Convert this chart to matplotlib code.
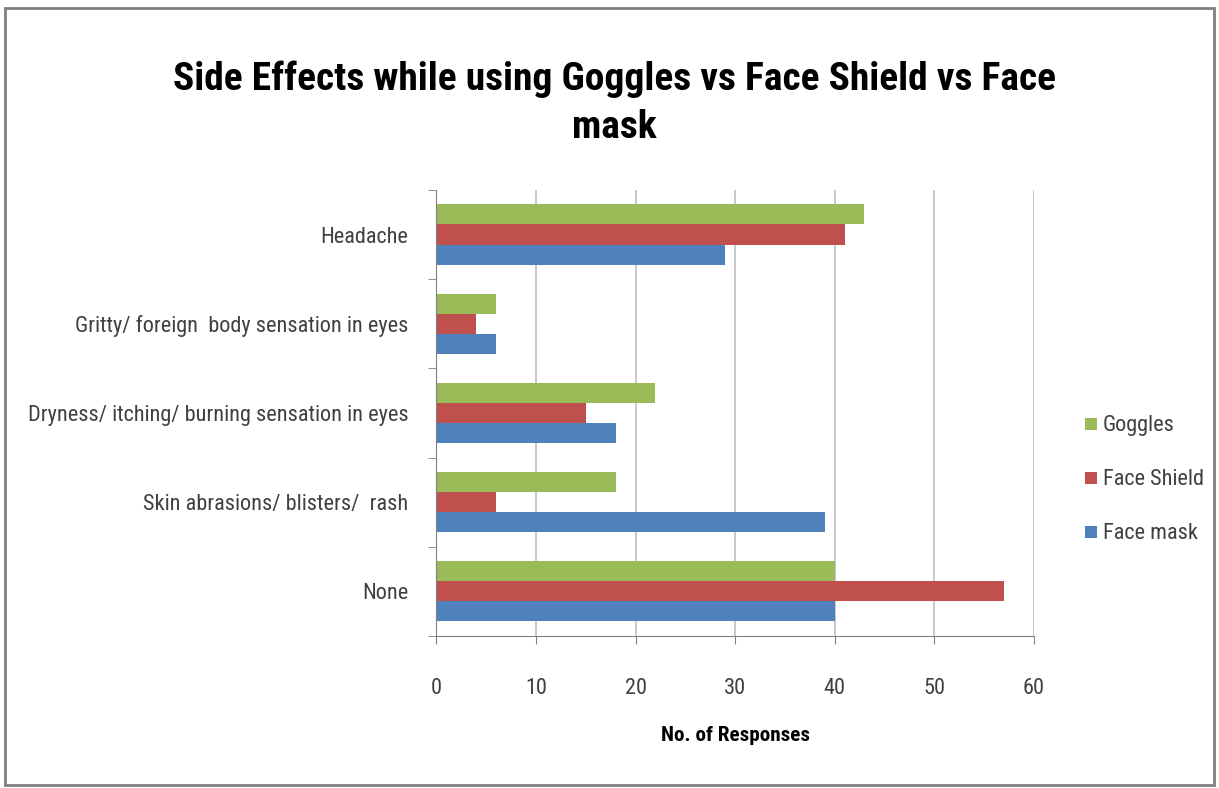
import matplotlib
matplotlib.use("Agg")
import matplotlib.pyplot as plt
from matplotlib import font_manager
from matplotlib.patches import Rectangle
import numpy as np

# Data (bottom to top as drawn)
categories = ["None", "Skin abrasions/ blisters/  rash",
              "Dryness/ itching/ burning sensation in eyes",
              "Gritty/ foreign  body sensation in eyes", "Headache"]
goggles = [40, 18, 22, 6, 43]
face_shield = [57, 6, 15, 4, 41]
face_mask = [40, 39, 18, 6, 29]
x_ticks = [0, 10, 20, 30, 40, 50, 60]

# pick a narrow face with a bold cut if one is installed
fl = font_manager.fontManager.ttflist
def has_bold(n):
    return any(f.name == n and f.weight in ("bold", 700, "heavy") for f in fl) and \
        any(f.name == n and f.weight in ("normal", 400, "regular") for f in fl)
prefs = ["Liberation Sans Narrow", "Roboto Condensed", "Open Sans Condensed",
         "Noto Sans Condensed"]
names = sorted({f.name for f in fl})
cands = [n for n in prefs if n in names and has_bold(n)]
cands += [n for n in names if ("Narrow" in n or "Condensed" in n) and has_bold(n)]
fam = cands[0] if cands else "Lato"
plt.rcParams['font.family'] = [fam, 'DejaVu Sans']

fig = plt.figure(figsize=(12.19, 7.88), dpi=100)
ax = fig.add_axes([0.358, 0.193, 0.490, 0.566])

y = np.arange(len(categories))
h = 0.225
ax.barh(y - h, face_mask, height=h, color="#4F81BD", label="Face mask")
ax.barh(y, face_shield, height=h, color="#C0504D", label="Face Shield")
ax.barh(y + h, goggles, height=h, color="#9BBB59", label="Goggles")

ax.set_xlim(0, 60)
ax.set_ylim(-0.5, len(categories) - 0.5)
ax.set_xticks(x_ticks)
ax.set_xticklabels([str(t) for t in x_ticks], fontsize=14, color="#404040")
ax.set_yticks(y)
ax.set_yticklabels(categories, fontsize=14, color="#404040")
ax.tick_params(axis="y", length=0, pad=20)
ax.set_yticks(np.arange(-0.5, len(categories), 1.0), minor=True)
ax.tick_params(axis="y", which="minor", length=6, color="#808080")
ax.tick_params(axis="x", length=6, color="#808080", pad=24)
ax.grid(axis="x", color="#BFBFBF", linewidth=1.2)
ax.set_axisbelow(True)
for s in ["top", "right"]:
    ax.spines[s].set_visible(False)
for s in ["left", "bottom"]:
    ax.spines[s].set_color("#808080")

xl = ax.set_xlabel("No. of Responses", fontsize=14, fontweight="bold", labelpad=20)

t1 = fig.text(0.504, 0.899, "Side Effects while using Goggles vs Face Shield vs Face",
              ha="center", va="center", fontsize=30, fontweight="bold")
t2 = fig.text(0.504, 0.838, "mask", ha="center", va="center", fontsize=30, fontweight="bold")

handles, labels = ax.get_legend_handles_labels()
leg = fig.legend(handles[::-1], labels[::-1], loc="center left",
                 bbox_to_anchor=(0.876, 0.392), frameon=False, fontsize=14,
                 handlelength=0.6, handleheight=0.6, handletextpad=0.3,
                 labelspacing=1.7)
for t in leg.get_texts():
    t.set_color("#404040")

# scale text sizes so widths match the reference layout
r = fig.canvas.get_renderer()
w = t1.get_window_extent(r).width
fs = 30 * 883 / w
t1.set_fontsize(fs)
t2.set_fontsize(fs)
lab = [l for l in ax.get_yticklabels() if l.get_text().startswith("Dryness")][0]
w = lab.get_window_extent(r).width
fs2 = 14 * 382 / w
for l in ax.get_yticklabels() + ax.get_xticklabels():
    l.set_fontsize(fs2)
for t in leg.get_texts():
    t.set_fontsize(fs2)
xl.set_fontsize(fs2 * 0.95)

fig.patches.append(Rectangle((0.004, 0.004), 0.992, 0.986, transform=fig.transFigure,
                             fill=False, edgecolor="#7F7F7F", linewidth=2))

fig.savefig("out.png", dpi=100)
